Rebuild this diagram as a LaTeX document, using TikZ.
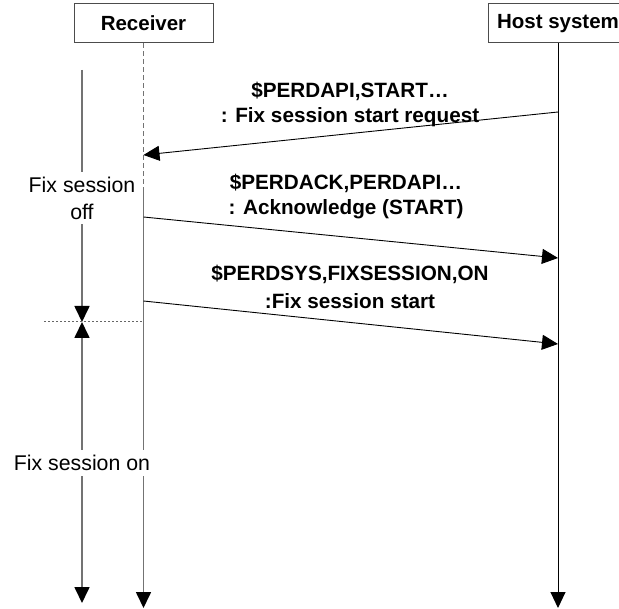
\documentclass[tikz,border=0pt]{standalone}
\usepackage{fontspec}
\setmainfont{Liberation Sans}
\usetikzlibrary{arrows.meta}

\begin{document}
\begin{tikzpicture}[x=1pt,y=-1pt,
  head/.tip={Triangle[length=16pt,width=15pt,color=black]},
  lifeline/.style={draw=black!55, line width=1.7pt},
  msg/.style={draw=black, line width=0.9pt, -head},
  actor/.style={draw=black!70, fill=white, line width=1pt,
    minimum width=139pt, minimum height=39pt, inner sep=0pt,
    font=\fontsize{20.5}{24}\selectfont\bfseries},
  msgtext/.style={font=\fontsize{20.7}{24}\selectfont\bfseries, anchor=base, inner sep=0pt},
  phase/.style={fill=white, font=\fontsize{21.3}{27}\selectfont, align=center,
    inner xsep=1pt, inner ysep=5pt}
]
\clip (0,0) rectangle (619,609);
\fill[white] (0,0) rectangle (619,609);

% participants
\node[actor] (rx) at (143.5,23.5) {Receiver};
\node[actor] (hs) at (558,23.5) {Host system};

% lifelines
\coordinate (rxsplit) at (143.5,192);
\coordinate (rxend) at (143.5,608);
\coordinate (hsend) at (558,608);
\draw[lifeline, dash pattern=on 5pt off 3pt] (rx.south) -- (rxsplit);
\draw[lifeline, -head] (rxsplit) -- (rxend);
\draw[draw=black, line width=1pt, -head] (hs.south) -- (hsend);

% session time line on the left
\coordinate (t0) at (82,70);
\coordinate (tmid) at (82,322);
\coordinate (tend) at (82,603);
\coordinate (dl) at (44,322);
\coordinate (dr) at (143.5,322);
\draw[lifeline, -head] (t0) -- (tmid);
\draw[lifeline, head-head] (tmid) -- (tend);
\draw[draw=black!60, line width=1pt, dash pattern=on 2pt off 2pt] (dl) -- (dr);

% messages
\coordinate (m1s) at (558,112);
\coordinate (m1e) at (143.5,155);
\coordinate (m2s) at (143.5,217);
\coordinate (m2e) at (558,258);
\coordinate (m3s) at (143.5,301);
\coordinate (m3e) at (558,344);
\draw[msg] (m1s) -- (m1e);
\draw[msg] (m2s) -- (m2e);
\draw[msg] (m3s) -- (m3e);

\node[msgtext] (l1a) at (350,98) {\$PERDAPI,START…};
\node[msgtext] (l1b) at (350,123) {: Fix session start request};
\node[msgtext] (l2a) at (346,190) {\$PERDACK,PERDAPI…};
\node[msgtext] (l2b) at (346,215) {: Acknowledge (START)};
\node[msgtext] (l3a) at (350,281) {\$PERDSYS,FIXSESSION,ON};
\node[msgtext] (l3b) at (350,309) {:Fix session start};

% session states
\node[phase] (off) at (82,198) {Fix session\\off};
\node[phase] (on) at (82,463) {Fix session on};
\end{tikzpicture}
\end{document}
